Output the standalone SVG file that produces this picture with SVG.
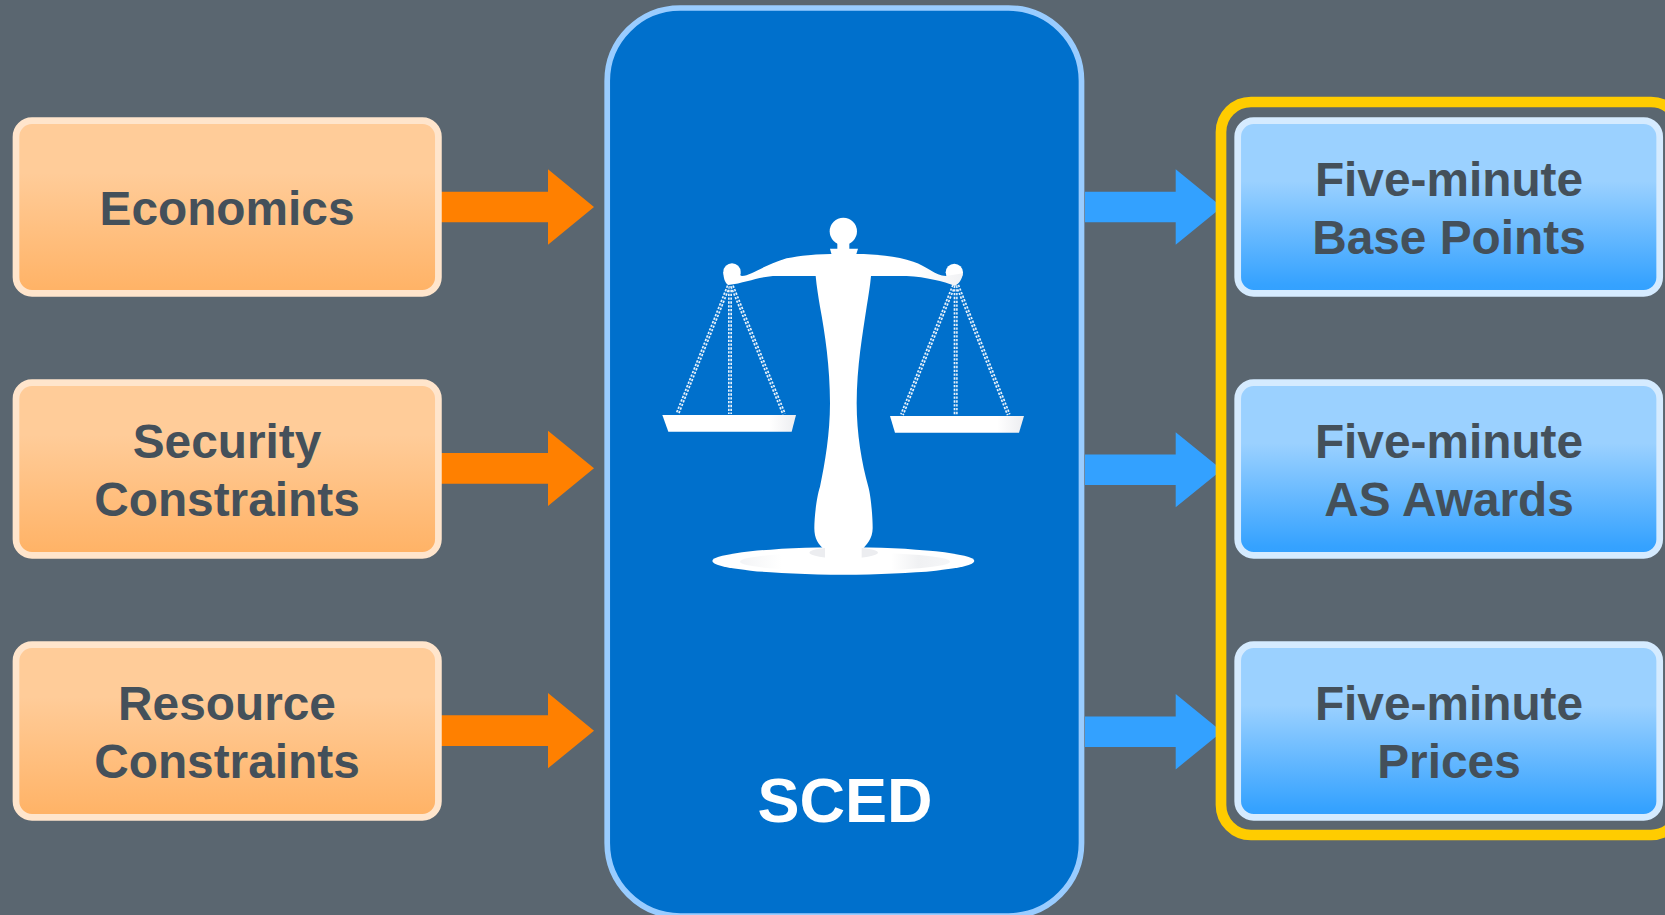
<svg xmlns="http://www.w3.org/2000/svg" width="1665" height="915" viewBox="0 0 1665 915">
<style>
.t{font-family:"Liberation Sans",Arial,sans-serif;font-weight:700;font-size:47.800px;fill:#44505A;text-anchor:middle}
.o{fill:url(#og);stroke:#FFE5CC;stroke-width:6.700}
.b{fill:url(#bg);stroke:#D5EBFF;stroke-width:6.700}
.ao{fill:#FF8000}
.ab{fill:#33A1FF}
.ch{fill:none;stroke:#EAF3FB;stroke-width:12;stroke-dasharray:7 4.500}
.cc{fill:none;stroke:#0070CC;stroke-width:3;opacity:.7}
.sc{fill:#fff}
</style>
<defs>
<linearGradient id="og" x1="0" y1="0" x2="0" y2="1"><stop offset="0" stop-color="#FFCC99"/><stop offset=".3" stop-color="#FFCC99"/><stop offset="1" stop-color="#FFB265"/></linearGradient>
<linearGradient id="bg" x1="0" y1="0" x2="0" y2="1"><stop offset="0" stop-color="#9BD1FF"/><stop offset=".35" stop-color="#9BD1FF"/><stop offset=".95" stop-color="#35A2FF"/><stop offset="1" stop-color="#33A1FF"/></linearGradient>
<linearGradient id="bs" x1="0" y1="0" x2="1" y2="0"><stop offset="0" stop-color="#fff"/><stop offset=".8" stop-color="#fff"/><stop offset="1" stop-color="#F1F2F4"/></linearGradient>
<linearGradient id="el" x1="0" y1="0" x2="1" y2="0"><stop offset="0" stop-color="#F3F4F6"/><stop offset=".2" stop-color="#fff"/><stop offset=".72" stop-color="#fff"/><stop offset=".85" stop-color="#F0F1F3"/><stop offset="1" stop-color="#F5F6F8"/></linearGradient>
<linearGradient id="pn" x1="0" y1="0" x2="1" y2="0"><stop offset="0" stop-color="#fff"/><stop offset=".8" stop-color="#fff"/><stop offset="1" stop-color="#ECEDF0"/></linearGradient>
</defs>
<rect width="1665" height="915" fill="#5A6670"/>
<g id="connectors">
<path class="ao" d="M441 191.700H548V169.300L594 207L548 244.700V222.300H441Z"/>
<path class="ao" d="M441 453H548V430.700L594 468.300L548 506V483.700H441Z"/>
<path class="ao" d="M441 715.300H548V693L594 730.700L548 768.300V746H441Z"/>
<path class="ab" d="M1085 191.700H1175.700V169.300L1222 207L1175.700 244.700V222.300H1085Z"/>
<path class="ab" d="M1085 454.500H1175.700V432.200L1222 469.700L1175.700 507.300V485H1085Z"/>
<path class="ab" d="M1085 716.400H1175.700V694L1222 731.700L1175.700 769.400V747H1085Z"/>
</g>
<g id="sced">
<rect x="607.200" y="8" width="474.300" height="908" rx="73" fill="#0070CC" stroke="#99CCFF" stroke-width="5.700"/>
<g id="scale" transform="translate(640 200) scale(.33333)">
<path class="ch" d="M266 258L112 642M270 258V642M276 258L432 642M942 256L786 644M947 256V644M952 256L1106 644"/>
<path class="cc" d="M266 258L112 642M270 258V642M276 258L432 642M942 256L786 644M947 256V644M952 256L1106 644"/>
<circle class="sc" cx="610" cy="94" r="41"/>
<circle class="sc" cx="276" cy="216" r="26"/>
<circle class="sc" cx="943" cy="217" r="26"/>
<path class="sc" d="M592 125H628V146H654L645 175H578L570 146H592Z"/>
<path fill="url(#bs)" d="M250 216L302 218C300 224 300 228 306 228C335 226 365 198 440 175C480 167 530 162 572 162H650C700 162 770 168 820 185C860 198 885 226 918 228L969 220C966 238 958 252 945 257C910 245 860 231 800 228H693C690 260 685 290 680 320C668 400 650 500 650 610C650 700 665 790 685 860C693 890 698 950 698 985C698 1015 680 1035 665 1050H555C535 1035 523 1015 523 985C523 950 530 890 540 860C555 790 570 700 570 610C570 500 555 400 540 320C535 290 530 260 527 228H410C360 228 320 248 265 255C255 250 250 232 250 216Z"/>
<ellipse class="sc" cx="610" cy="1083" rx="393" ry="41"/>
<ellipse cx="615" cy="1085" rx="315" ry="28" fill="url(#el)"/>
<ellipse cx="611" cy="1058" rx="103" ry="17" fill="#ECEDF0"/>
<path class="sc" d="M555 1040H665V1095H555Z"/>
<path fill="url(#pn)" d="M67 645H468L455 695H85Z"/>
<path fill="url(#pn)" d="M750 648H1152L1137 698H765Z"/>
</g>
<text x="845" y="822" font-family="'Liberation Sans',Arial,sans-serif" font-weight="700" font-size="63" fill="#fff" text-anchor="middle">SCED</text>
</g>
<g id="outputs-frame"><rect x="1221" y="102" width="460" height="733" rx="30" fill="none" stroke="#FFCC00" stroke-width="10.700"/></g>
<g id="economics"><rect class="o" x="16" y="120.700" width="422.400" height="172.600" rx="16"/><text class="t" x="227" y="225">Economics</text></g>
<g id="security"><rect class="o" x="16" y="382.700" width="422.400" height="172.600" rx="16"/><text class="t" x="227" y="458">Security</text><text class="t" x="227" y="516">Constraints</text></g>
<g id="resource"><rect class="o" x="16" y="644.700" width="422.400" height="172.600" rx="16"/><text class="t" x="227" y="720">Resource</text><text class="t" x="227" y="778">Constraints</text></g>
<g id="base-points"><rect class="b" x="1237.700" y="120.700" width="422" height="172.600" rx="16"/><text class="t" x="1449" y="196">Five-minute</text><text class="t" x="1449" y="254">Base Points</text></g>
<g id="as-awards"><rect class="b" x="1237.700" y="382.700" width="422" height="172.600" rx="16"/><text class="t" x="1449" y="458">Five-minute</text><text class="t" x="1449" y="516">AS Awards</text></g>
<g id="prices"><rect class="b" x="1237.700" y="644.700" width="422" height="172.600" rx="16"/><text class="t" x="1449" y="720">Five-minute</text><text class="t" x="1449" y="778">Prices</text></g>
</svg>
